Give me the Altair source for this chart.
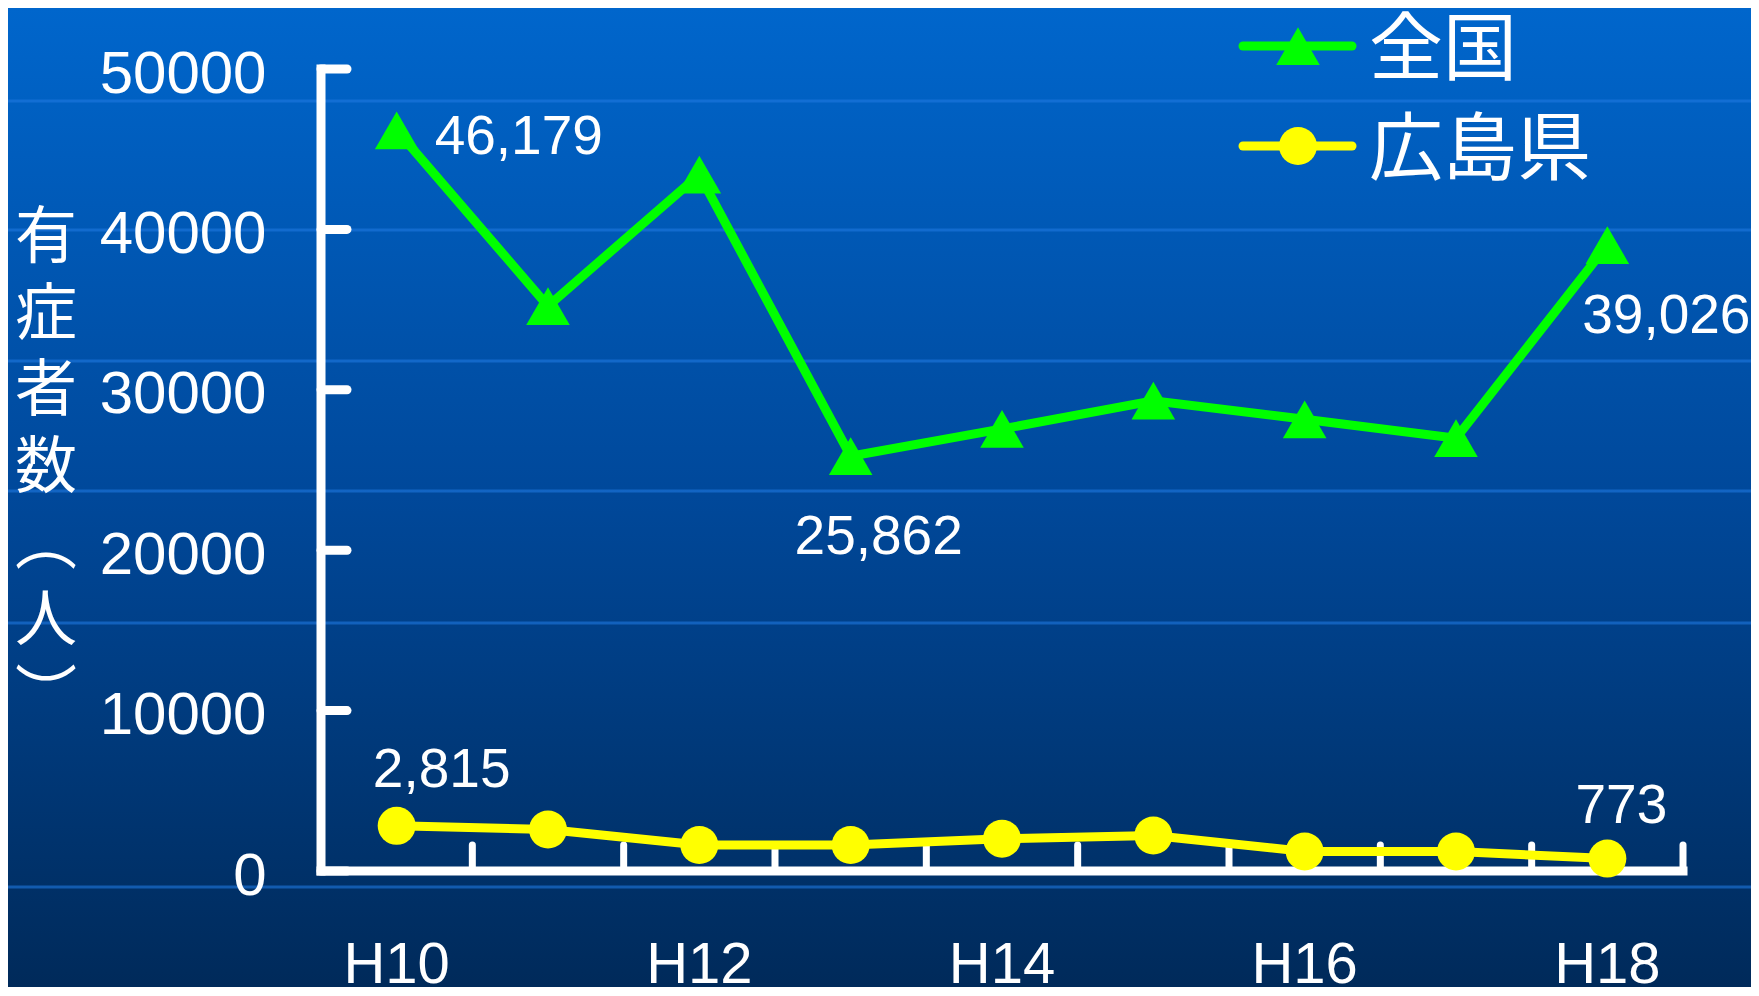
import altair as alt
import pandas as pd

# ---- data ----
YEARS = ["H10", "H11", "H12", "H13", "H14", "H15", "H16", "H17", "H18"]
NATIONAL = [46179, 35220, 43420, 25862, 27560, 29320, 28160, 26980, 39026]
HIROSHIMA = [2815, 2590, 1620, 1620, 2015, 2210, 1220, 1220, 773]
X_LABELS = ["H10", "H12", "H14", "H16", "H18"]
Y_TICKS = [0, 10000, 20000, 30000, 40000, 50000]
SERIES = ["全国", "広島県"]
Y_TITLE = "有症者数︵人︶"

# ---- layout / style ----
W, H = 1362, 802
PAD = {"left": 313, "top": 61, "right": 68, "bottom": 116}
GREEN = "#00FF00"
YELLOW = "#FFFF00"
NUM_FONT = "Liberation Sans"
CJK_FONT = "Noto Sans CJK JP"

df_nat = pd.DataFrame({"year": YEARS, "value": NATIONAL})
df_hir = pd.DataFrame({"year": YEARS, "value": HIROSHIMA})
df_years = pd.DataFrame({"year": YEARS})
df_yt = pd.DataFrame({"tick": Y_TICKS})
one = pd.DataFrame({"k": [0]})

xscale = alt.Scale(type="band", domain=YEARS, paddingInner=0, paddingOuter=0)
xaxis = alt.Axis(values=X_LABELS, title=None, domain=False, ticks=False, tickSize=0,
                 grid=False, labelAngle=0, labelFont=NUM_FONT, labelFontSize=58,
                 labelColor="white", labelPadding=65, zindex=1)
yscale = alt.Scale(domain=[0, 50000], nice=False, zero=True)
yaxis = alt.Axis(values=Y_TICKS, title=None, domain=False, ticks=False, tickSize=0,
                 grid=False, labelFont=NUM_FONT, labelFontSize=60, labelColor="white",
                 labelPadding=55, labelOffset=5, format="d", zindex=1)


def X(**kw):
    return alt.X("year:N", scale=xscale, axis=xaxis, **kw)


def Y(field="value:Q"):
    return alt.Y(field, scale=yscale, axis=yaxis)


bg = alt.Chart(one).mark_rect(
    fill=alt.Gradient(gradient="linear", x1=0, x2=0, y1=0, y2=1,
                      stops=[alt.GradientStop(offset=0, color="#0066CC"),
                             alt.GradientStop(offset=0.5, color="#00489A"),
                             alt.GradientStop(offset=1, color="#002A5A")])
).encode(x=alt.value(-PAD["left"]), x2=alt.value(W + PAD["right"]),
         y=alt.value(-PAD["top"]), y2=alt.value(H + PAD["bottom"]))

bg_lines = [
    alt.Chart(one).mark_rule(color="#1E78E0", strokeWidth=3, opacity=0.6).encode(
        x=alt.value(-PAD["left"]), x2=alt.value(W + PAD["right"]), y=alt.value(yy))
    for yy in [32, 161, 292, 422, 554, 818]
]

y_dom = alt.Chart(one).mark_rule(color="white", strokeWidth=9, strokeCap="square").encode(
    x=alt.value(0), y=alt.value(0), y2=alt.value(H))
x_dom = alt.Chart(one).mark_rule(color="white", strokeWidth=9, strokeCap="square").encode(
    x=alt.value(0), x2=alt.value(W), y=alt.value(H))

y_ticks = alt.Chart(df_yt).mark_rule(color="white", strokeWidth=9, strokeCap="round").encode(
    y=Y("tick:Q"), x=alt.value(0), x2=alt.value(26))
x_ticks = alt.Chart(df_years).mark_rule(color="white", strokeWidth=7, strokeCap="round").encode(
    x=X(bandPosition=1), y=alt.value(H), y2=alt.value(H - 26))

nat_line = alt.Chart(df_nat).mark_line(color=GREEN, strokeWidth=9).encode(x=X(), y=Y())
nat_pts = alt.Chart(df_nat).mark_point(shape="triangle-up", filled=True, size=1900,
                                       color=GREEN, opacity=1).encode(x=X(), y=Y())
hir_line = alt.Chart(df_hir).mark_line(color=YELLOW, strokeWidth=9).encode(x=X(), y=Y())
hir_pts = alt.Chart(df_hir).mark_point(shape="circle", filled=True, size=1444,
                                       color=YELLOW, opacity=1).encode(x=X(), y=Y())


def label(df, year, dx, dy, align):
    return alt.Chart(df).transform_filter(alt.datum.year == year).mark_text(
        dx=dx, dy=dy, align=align, baseline="alphabetic", font=NUM_FONT,
        fontSize=55, color="white").encode(
        x=X(), y=Y(), text=alt.Text("value:Q", format=","))


labels = [
    label(df_nat, "H10", 38, 24, "left"),
    label(df_nat, "H13", 28, 98, "center"),
    label(df_nat, "H18", 59, 88, "center"),
    label(df_hir, "H10", 45, -39, "center"),
    label(df_hir, "H18", 14, -36, "center"),
]

leg = []
for name, col, shape, size, ly in [(SERIES[0], GREEN, "triangle-up", 1900, -23),
                                   (SERIES[1], YELLOW, "circle", 1444, 77)]:
    d = pd.DataFrame({"name": [name]})
    leg.append(alt.Chart(d).mark_rule(color=col, strokeWidth=9, strokeCap="round").encode(
        x=alt.value(922), x2=alt.value(1031), y=alt.value(ly)))
    leg.append(alt.Chart(d).mark_point(shape=shape, filled=True, size=size, color=col,
                                       opacity=1).encode(x=alt.value(977), y=alt.value(ly)))
    leg.append(alt.Chart(d).mark_text(align="left", baseline="middle", font=CJK_FONT,
                                      fontSize=74, color="white").encode(
        x=alt.value(1048), y=alt.value(ly + 6), text="name:N"))

ytitle = alt.Chart(one).mark_text(text=list(Y_TITLE), lineHeight=76.5, align="center",
                                  baseline="middle", font=CJK_FONT, fontSize=62,
                                  color="white").encode(x=alt.value(-275), y=alt.value(170))

chart = alt.layer(
    bg, *bg_lines, y_ticks, x_ticks, y_dom, x_dom,
    nat_line, nat_pts, hir_line, hir_pts, *labels, *leg, ytitle
).properties(
    width=W, height=H, padding=PAD, autosize=alt.AutoSizeParams(type="none"),
    background="#00336B"
).configure_view(stroke=None)

chart.save("out.html", embed_options={"renderer": "svg", "actions": False})
